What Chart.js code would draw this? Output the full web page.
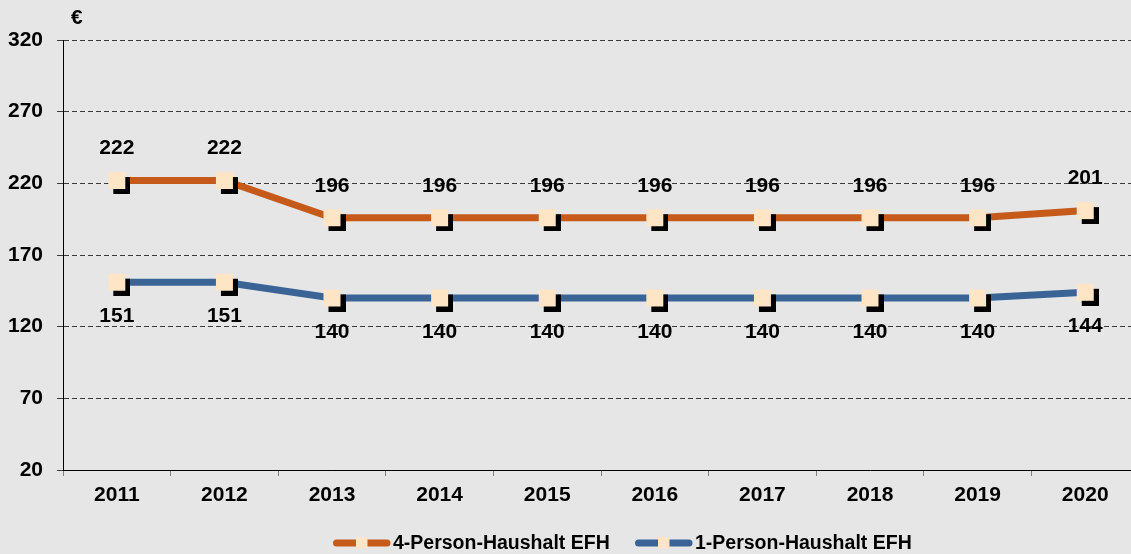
<!DOCTYPE html>
<html>
<head>
<meta charset="utf-8">
<script src="https://cdn.jsdelivr.net/npm/chart.js@4/dist/chart.umd.min.js"></script>
<style>
  html, body { margin: 0; padding: 0; background: #e6e6e6; overflow: hidden; width: 1131px; height: 554px; }
  #wrap { position: absolute; left: 0; top: 0; width: 1148px; height: 554px; }
</style>
</head>
<body>
<div id="wrap"><canvas id="c" width="1148" height="554"></canvas></div>
<script>
// Jahre
const years = ['2011', '2012', '2013', '2014', '2015', '2016', '2017', '2018', '2019', '2020'];
// Kosten in Euro je Haushalt
const fourPerson = [222, 222, 196, 196, 196, 196, 196, 196, 196, 201];
const onePerson = [151, 151, 140, 140, 140, 140, 140, 140, 140, 144];
const seriesNames = ['4-Person-Haushalt EFH', '1-Person-Haushalt EFH'];
const yTicks = [20, 70, 120, 170, 220, 270, 320];

const ORANGE = '#c55a1b';
const BLUE = '#3a6496';
const CREAM = '#fde5c6';
const FONT = '"Liberation Sans", Arial, sans-serif';

// square marker with a black drop shadow to the lower right
function makeMarker(size, off) {
  const cv = document.createElement('canvas');
  cv.width = size + 2 * off;
  cv.height = size + 2 * off;
  const g = cv.getContext('2d');
  g.fillStyle = '#000';
  g.fillRect(2 * off, 2 * off, size, size);
  g.fillStyle = CREAM;
  g.fillRect(off, off, size, size);
  return cv;
}
const marker = makeMarker(17, 5);

const bgPlugin = {
  id: 'bg',
  beforeDraw(chart) {
    const ctx = chart.ctx;
    ctx.save();
    ctx.fillStyle = '#e6e6e6';
    ctx.fillRect(0, 0, chart.width, chart.height);
    ctx.restore();
  }
};

// value labels: above the upper series, below the lower one
const valueLabels = {
  id: 'valueLabels',
  afterDatasetsDraw(chart) {
    const ctx = chart.ctx;
    ctx.save();
    ctx.font = 'bold 21px ' + FONT;
    ctx.fillStyle = '#000';
    ctx.textAlign = 'center';
    ctx.textBaseline = 'middle';
    chart.data.datasets.forEach((ds, i) => {
      const meta = chart.getDatasetMeta(i);
      const dy = i === 0 ? -32 : 34;
      meta.data.forEach((pt, j) => {
        ctx.fillText(String(ds.data[j]), pt.x, pt.y + dy);
      });
    });
    ctx.restore();
  }
};

// unit label and legend
const extras = {
  id: 'extras',
  afterDraw(chart) {
    const ctx = chart.ctx;
    const area = chart.chartArea;
    ctx.save();
    ctx.fillStyle = '#000';
    ctx.font = 'bold 21px ' + FONT;
    ctx.textAlign = 'left';
    ctx.textBaseline = 'middle';
    ctx.fillText('€', area.left + 8, 18);

    const items = [
      { x: 333, color: ORANGE, label: seriesNames[0] },
      { x: 635, color: BLUE, label: seriesNames[1] }
    ];
    const y = 543;
    ctx.font = 'bold 19.5px ' + FONT;
    items.forEach(it => {
      ctx.strokeStyle = it.color;
      ctx.lineWidth = 7;
      ctx.lineCap = 'round';
      ctx.beginPath();
      ctx.moveTo(it.x + 3.5, y);
      ctx.lineTo(it.x + 54, y);
      ctx.stroke();
      ctx.fillStyle = CREAM;
      ctx.fillRect(it.x + 23, y - 5.5, 11.5, 11);
      ctx.fillStyle = '#000';
      ctx.fillText(it.label, it.x + 60, y + 1);
    });
    ctx.restore();
  }
};

new Chart(document.getElementById('c'), {
  type: 'line',
  data: {
    labels: years,
    datasets: [
      {
        label: seriesNames[0],
        data: fourPerson,
        borderColor: ORANGE,
        backgroundColor: ORANGE,
        borderWidth: 7,
        tension: 0,
        pointStyle: marker,
        pointRadius: 9,
        pointBorderWidth: 0,
        pointHoverRadius: 9
      },
      {
        label: seriesNames[1],
        data: onePerson,
        borderColor: BLUE,
        backgroundColor: BLUE,
        borderWidth: 7,
        tension: 0,
        pointStyle: marker,
        pointRadius: 9,
        pointBorderWidth: 0,
        pointHoverRadius: 9
      }
    ]
  },
  options: {
    responsive: false,
    animation: false,
    events: [],
    layout: { padding: { top: 40, left: 0, right: 0, bottom: 0 } },
    plugins: {
      legend: { display: false },
      tooltip: { enabled: false }
    },
    scales: {
      x: {
        offset: true,
        grid: {
          offset: true,
          drawOnChartArea: false,
          drawTicks: true,
          tickLength: 6,
          color: '#808080',
          lineWidth: 1
        },
        border: { display: true, color: '#000', width: 1 },
        ticks: {
          color: '#000',
          font: { family: FONT, size: 21, weight: 'bold' },
          padding: 7,
          maxRotation: 0,
          autoSkip: false
        },
        afterFit(scale) { scale.height = 84; }
      },
      y: {
        min: 20,
        max: 320,
        afterBuildTicks(scale) { scale.ticks = yTicks.map(v => ({ value: v })); },
        grid: {
          color: '#3c3c3c',
          lineWidth: 1,
          drawTicks: true,
          tickLength: 6
        },
        border: { display: true, color: '#000', width: 1, dash: [5, 3] },
        ticks: {
          color: '#000',
          font: { family: FONT, size: 21, weight: 'bold' },
          padding: 14
        },
        afterFit(scale) { scale.width = 63; }
      }
    }
  },
  plugins: [bgPlugin, valueLabels, extras]
});
</script>
</body>
</html>
